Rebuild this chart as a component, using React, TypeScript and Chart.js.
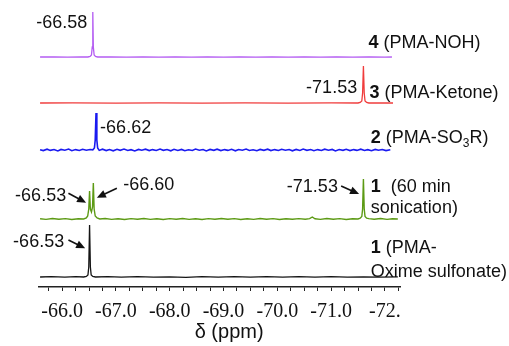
import React, { useEffect, useRef } from 'react';
import { Chart, registerables } from 'chart.js';

Chart.register(...registerables);

// ---- data ----
const axisMin = -72.28;
const axisMax = -65.57;
const tickStep = 0.25;
const majorTicks = [-66, -67, -68, -69, -70, -71, -72];
const majorTickLabels = ['-66.0', '-67.0', '-68.0', '-69.0', '-70.0', '-71.0', '-72.'];
const axisTitle = 'δ (ppm)';

// vertical offsets of the stacked spectra (intensity units)
const stackOffsets = [10, 68, 137, 184, 230]; // black, green, blue, red, purple

// 1 (PMA-Oxime sulfonate) - black
const blackPpm = [-65.59, -65.8, -66.05, -66.25, -66.4, -66.45, -66.48, -66.495, -66.51, -66.525, -66.54, -66.57, -66.62, -66.85, -67.1, -67.4, -67.7, -68.0, -68.3, -68.6, -68.9, -69.2, -69.5, -69.8, -70.1, -70.4, -70.7, -71.0, -71.3, -71.6, -71.9, -72.24];
const blackInt = [0, 0.3, -0.2, 0.3, 0, 0.6, 2, 10, 52, 10, 2, 0.6, 0, 0.3, -0.2, 0.3, -0.2, 0.2, -0.3, 0.3, -0.1, 0.3, -0.2, 0.3, -0.2, 0.3, -0.1, 0.3, -0.2, 0.2, -0.2, 0.1];

// 1 (60 min sonication) - green
const greenPpm = [-65.59, -65.7, -65.82, -65.94, -66.06, -66.18, -66.3, -66.4, -66.45, -66.475, -66.495, -66.51, -66.525, -66.545, -66.565, -66.58, -66.595, -66.615, -66.65, -66.7, -66.8, -66.92, -67.04, -67.16, -67.28, -67.4, -67.52, -67.64, -67.76, -67.88, -68.0, -68.12, -68.24, -68.36, -68.48, -68.6, -68.72, -68.84, -68.96, -69.08, -69.2, -69.32, -69.44, -69.56, -69.68, -69.8, -69.92, -70.04, -70.16, -70.28, -70.4, -70.52, -70.6, -70.65, -70.7, -70.8, -70.92, -71.04, -71.16, -71.28, -71.4, -71.5, -71.54, -71.57, -71.585, -71.6, -71.615, -71.63, -71.66, -71.7, -71.8, -71.92, -72.04, -72.14, -72.24];
const greenInt = [0.2, -0.4, 0.5, -0.3, 0.4, -0.5, 0.3, 0, 1, 3, 10, 28, 10, 7, 12, 36, 10, 3, 1, 0, 0.5, -0.4, 0.3, -0.5, 0.4, -0.2, 0.5, -0.4, 0.3, -0.5, 0.4, -0.3, 0.5, -0.4, 0.2, -0.5, 0.4, -0.3, 0.5, -0.2, 0.4, -0.5, 0.3, -0.4, 0.5, -0.3, 0.4, -0.5, 0.3, -0.2, 0.4, -0.3, 0.3, 2, 0.2, -0.4, 0.5, -0.3, 0.4, -0.5, 0.3, 0, 0.8, 2.5, 10, 40, 10, 2.5, 0.8, 0.4, -0.3, 0.5, -0.4, 0.3, 0];

// 2 (PMA-SO3R) - blue
const bluePpm = [-65.59, -65.65, -65.72, -65.78, -65.85, -65.92, -65.98, -66.05, -66.12, -66.18, -66.25, -66.32, -66.38, -66.45, -66.52, -66.57, -66.6, -66.615, -66.63, -66.645, -66.66, -66.69, -66.75, -66.82, -66.88, -66.95, -67.02, -67.08, -67.15, -67.22, -67.28, -67.35, -67.42, -67.48, -67.55, -67.62, -67.68, -67.75, -67.82, -67.88, -67.95, -68.02, -68.08, -68.15, -68.22, -68.28, -68.35, -68.42, -68.48, -68.55, -68.62, -68.68, -68.75, -68.82, -68.88, -68.95, -69.02, -69.08, -69.15, -69.22, -69.28, -69.35, -69.42, -69.48, -69.55, -69.62, -69.68, -69.75, -69.82, -69.88, -69.95, -70.02, -70.08, -70.15, -70.22, -70.28, -70.35, -70.42, -70.48, -70.55, -70.62, -70.68, -70.75, -70.82, -70.88, -70.95, -71.02, -71.08, -71.15, -71.22, -71.28, -71.35, -71.42, -71.48, -71.55, -71.62, -71.68, -71.75, -71.82, -71.88, -71.95, -72.02, -72.1];
const blueInt = [0.3, -0.6, 0.8, -0.4, 0.5, -0.9, 0.6, -0.2, 0.9, -0.7, 0.4, -0.5, 0.7, -0.3, 0.5, 0.2, 2, 10, 37, 10, 2, -0.4, 0.8, -0.6, 0.5, -0.8, 0.7, -0.3, 0.9, -0.5, 0.3, -0.9, 0.6, -0.2, 0.8, -0.6, 0.4, -0.5, 1.0, -0.3, 0.5, -0.8, 0.7, -0.4, 0.6, -0.7, 0.3, -0.5, 0.9, -0.2, 0.5, -0.9, 0.6, -0.3, 0.8, -0.6, 0.4, -0.4, 0.7, -0.8, 0.5, -0.2, 0.9, -0.5, 0.3, -0.7, 0.6, -0.3, 0.8, -0.6, 0.4, -0.5, 0.7, -0.2, 0.5, -0.8, 0.6, -0.4, 0.9, -0.3, 0.5, -0.7, 0.4, -0.5, 0.8, -0.2, 0.6, -0.9, 0.5, -0.3, 0.7, -0.6, 0.4, -0.4, 0.8, -0.5, 0.3, -0.7, 0.6, -0.2, 0.5, -0.6, 0.3];

// 3 (PMA-Ketone) - red
const redPpm = [-65.59, -66.2, -67.0, -67.8, -68.6, -69.4, -70.2, -71.0, -71.5, -71.54, -71.57, -71.585, -71.6, -71.615, -71.63, -71.66, -71.7, -72.15];
const redInt = [0, 0.1, -0.1, 0.1, -0.1, 0.1, -0.1, 0.1, 0, 0.6, 2, 10, 37, 10, 2, 0.6, 0, 0];

// 4 (PMA-NOH) - purple
const purplePpm = [-65.59, -65.85, -66.1, -66.35, -66.48, -66.52, -66.545, -66.56, -66.57, -66.58, -66.595, -66.62, -66.66, -66.9, -67.2, -67.5, -67.8, -68.1, -68.4, -68.7, -69.0, -69.3, -69.6, -69.9, -70.2, -70.5, -70.8, -71.1, -71.4, -71.7, -72.0, -72.13];
const purpleInt = [0, 0.2, -0.2, 0.2, 0, 0.6, 2, 10, 45, 10, 2, 0.6, 0, 0.2, -0.2, 0.2, -0.1, 0.2, -0.2, 0.1, -0.2, 0.2, -0.1, 0.2, -0.2, 0.1, -0.2, 0.2, -0.1, 0.2, -0.1, 0];

// peak labels
const peakLabelTexts = ['-66.58', '-66.62', '-71.53', '-66.53', '-66.60', '-71.53', '-66.53'];
// series labels (bold number + name lines)
const seriesNumbers = ['4', '3', '2', '1', '1'];

// ---- layout of annotations (ppm / intensity coordinates) ----
const peakLabelPos = [
  [-65.517, 258.7],
  [-66.706, 153.7],
  [-70.535, 194.3],
  [-65.126, 86.3],
  [-67.134, 97],
  [-70.177, 95.3],
  [-65.089, 40.3],
];
const arrows = [
  [-66.117, 93.7, -66.446, 84.3],
  [-67.017, 98.7, -66.645, 89.3],
  [-71.186, 101, -71.52, 93],
  [-66.117, 47, -66.428, 38.7],
];

type Run = { t: string; b?: boolean; sub?: boolean };
const seriesLabelLines: { ppm: number; val: number; runs: Run[] }[] = [
  { ppm: -71.693, val: 238.7, runs: [{ t: seriesNumbers[0], b: true }, { t: ' (PMA-NOH)' }] },
  { ppm: -71.712, val: 188.7, runs: [{ t: seriesNumbers[1], b: true }, { t: ' (PMA-Ketone)' }] },
  { ppm: -71.738, val: 144.3, runs: [{ t: seriesNumbers[2], b: true }, { t: ' (PMA-SO' }, { t: '3', sub: true }, { t: 'R)' }] },
  { ppm: -71.738, val: 95.3, runs: [{ t: seriesNumbers[3], b: true }, { t: '  (60 min' }] },
  { ppm: -71.738, val: 73.7, runs: [{ t: 'sonication)' }] },
  { ppm: -71.738, val: 34, runs: [{ t: seriesNumbers[4], b: true }, { t: ' (PMA-' }] },
  { ppm: -71.738, val: 10, runs: [{ t: 'Oxime sulfonate)' }] },
];

const SANS = "'Liberation Sans', Arial, sans-serif";

function pts(ppm: number[], ints: number[], off: number) {
  return ppm.map((p, i) => ({ x: p, y: off + ints[i] }));
}

const annotationPlugin = {
  id: 'nmrAnnotations',
  afterDraw(chart: any) {
    const ctx: CanvasRenderingContext2D = chart.ctx;
    const xs = chart.scales.x;
    const ys = chart.scales.y;
    const X = (v: number) => xs.getPixelForValue(v);
    const Y = (v: number) => ys.getPixelForValue(v);
    ctx.save();
    ctx.fillStyle = '#111';
    ctx.strokeStyle = '#111';
    ctx.textBaseline = 'alphabetic';
    ctx.textAlign = 'left';

    // peak labels
    ctx.font = `18px ${SANS}`;
    peakLabelTexts.forEach((t, i) => {
      ctx.fillText(t, X(peakLabelPos[i][0]), Y(peakLabelPos[i][1]));
    });

    // arrows
    ctx.lineWidth = 1.6;
    arrows.forEach(([a, b, c, d]) => {
      const x1 = X(a), y1 = Y(b), x2 = X(c), y2 = Y(d);
      const ang = Math.atan2(y2 - y1, x2 - x1);
      const L = 9, W = 4;
      const cs = Math.cos(ang), sn = Math.sin(ang);
      ctx.beginPath();
      ctx.moveTo(x1, y1);
      ctx.lineTo(x2 - L * 0.7 * cs, y2 - L * 0.7 * sn);
      ctx.stroke();
      ctx.beginPath();
      ctx.moveTo(x2, y2);
      ctx.lineTo(x2 - L * cs - W * sn, y2 - L * sn + W * cs);
      ctx.lineTo(x2 - L * cs + W * sn, y2 - L * sn - W * cs);
      ctx.closePath();
      ctx.fill();
    });

    // series labels
    seriesLabelLines.forEach((line) => {
      let x = X(line.ppm);
      const y = Y(line.val);
      line.runs.forEach((r) => {
        ctx.font = r.sub ? `12px ${SANS}` : `${r.b ? 'bold ' : ''}18px ${SANS}`;
        ctx.fillText(r.t, x, r.sub ? y + 4 : y);
        x += ctx.measureText(r.t).width;
      });
    });

    // axis title
    ctx.font = `20px ${SANS}`;
    ctx.textAlign = 'center';
    ctx.fillText(axisTitle, X(-69.104), chart.chartArea.bottom + 51);
    ctx.restore();
  },
};

export default function App() {
  const ref = useRef<HTMLCanvasElement>(null);
  useEffect(() => {
    if (!ref.current) return;
    const mk = (label: string, ppm: number[], ints: number[], off: number, color: string, w: number) => ({
      label,
      data: pts(ppm, ints, off),
      borderColor: color,
      backgroundColor: color,
      borderWidth: w,
      pointRadius: 0,
      tension: 0,
      fill: false,
    });
    const chart = new Chart(ref.current, {
      type: 'line',
      data: {
        datasets: [
          mk('1 (PMA-Oxime sulfonate)', blackPpm, blackInt, stackOffsets[0], '#141414', 1.3),
          mk('1 (60 min sonication)', greenPpm, greenInt, stackOffsets[1], '#5c9a14', 1.4),
          mk('2 (PMA-SO3R)', bluePpm, blueInt, stackOffsets[2], '#1a1af0', 1.6),
          mk('3 (PMA-Ketone)', redPpm, redInt, stackOffsets[3], '#f03c3c', 1.3),
          mk('4 (PMA-NOH)', purplePpm, purpleInt, stackOffsets[4], '#b45cf2', 1.3),
        ],
      },
      options: {
        animation: false,
        responsive: false,
        devicePixelRatio: 1,
        layout: { padding: { left: 39, right: 109, top: 7, bottom: 0 } },
        plugins: { legend: { display: false }, tooltip: { enabled: false } },
        scales: {
          x: {
            type: 'linear',
            reverse: true,
            min: axisMin,
            max: axisMax,
            afterFit: (scale: any) => {
              scale.height = 59;
            },
            border: { display: true, color: '#222', width: 1.5 },
            grid: { display: true, drawOnChartArea: false, drawTicks: true, tickLength: 4, color: '#222', lineWidth: 1 },
            ticks: {
              stepSize: tickStep,
              autoSkip: false,
              includeBounds: false,
              maxRotation: 0,
              minRotation: 0,
              padding: 9,
              color: '#111',
              font: { family: "'Liberation Serif', 'Times New Roman', serif", size: 20 },
              callback: (v: any) => {
                const i = majorTicks.findIndex((m) => Math.abs(m - Number(v)) < 1e-6);
                return i >= 0 ? majorTickLabels[i] : '';
              },
            },
          },
          y: { display: false, min: 0, max: 280 },
        },
      },
      plugins: [annotationPlugin],
    } as any);
    return () => chart.destroy();
  }, []);
  return (
    <div style={{ position: 'fixed', left: 0, top: 0, width: 509, height: 346, background: '#fff' }}>
      <canvas ref={ref} width={509} height={346} style={{ display: 'block' }} />
    </div>
  );
}
